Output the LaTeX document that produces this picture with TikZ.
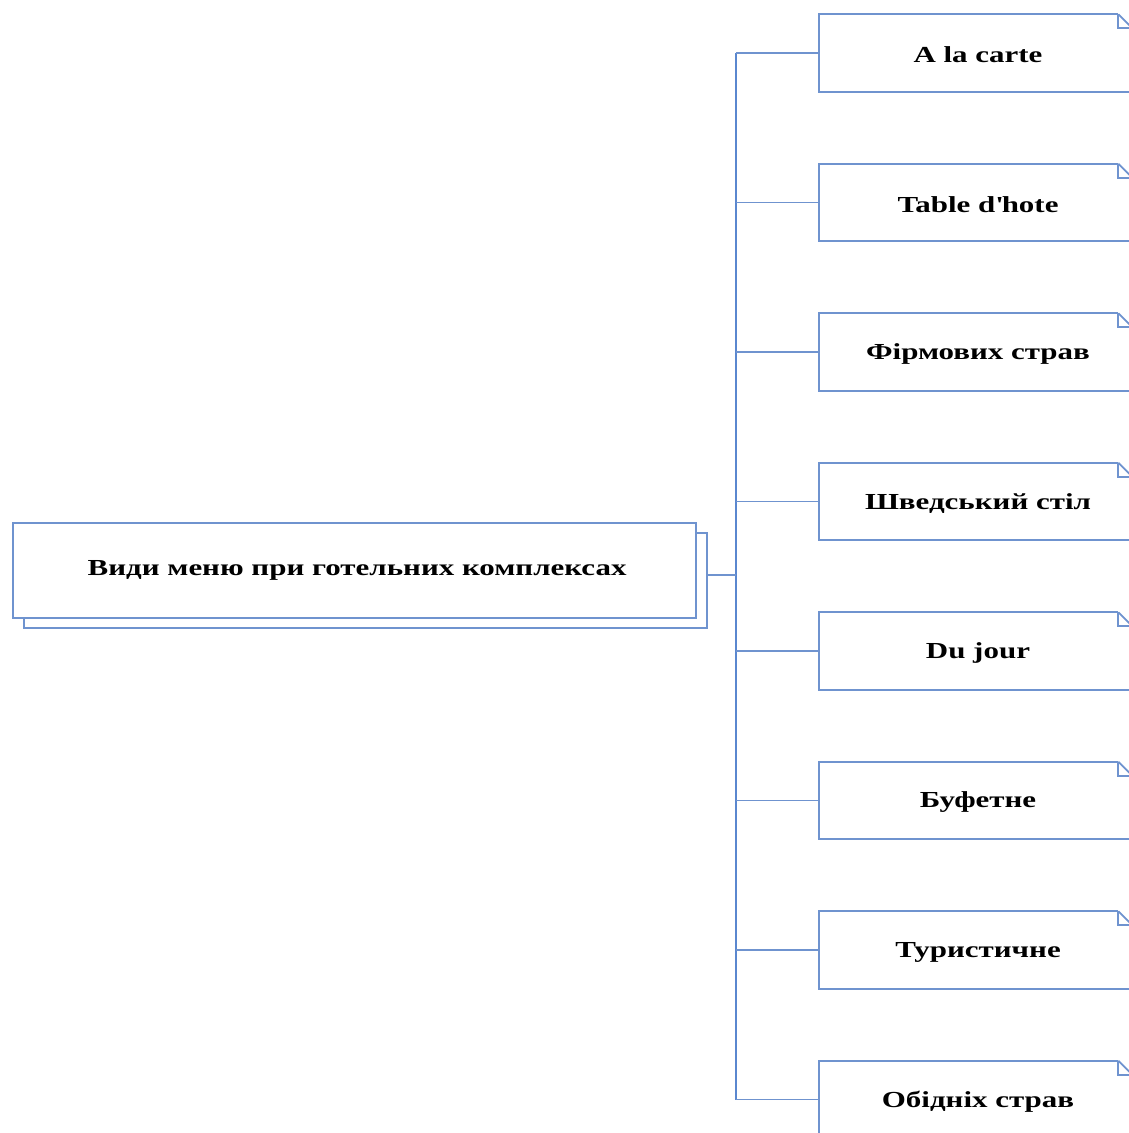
\documentclass[tikz,border=0pt]{standalone}
\usepackage{fontspec}
\setmainfont{Liberation Serif}[BoldFeatures={FakeStretch=1.35}]
\begin{document}
\begin{tikzpicture}[x=0.75pt,y=-0.75pt,
  boxline/.style={draw=boxblue,line width=1.3pt},
  busline/.style={draw=busblue,line width=2pt},
  txt/.style={font=\fontsize{17.2}{19}\selectfont\bfseries},
  item/.style={minimum width=313*0.75pt,minimum height=77*0.75pt,inner sep=0pt},
  mainbox/.style={boxline,fill=white,minimum width=683*0.75pt,minimum height=95*0.75pt,inner sep=0pt,txt}]
\definecolor{boxblue}{HTML}{6F93CF}
\definecolor{busblue}{HTML}{5A87CF}
\clip (0,0) rectangle (1129,1133);
\fill[white] (0,0) rectangle (1129,1133);
% main box with shadow copy
\node[mainbox] (mainback) at (365.5,580.5) {};
\node[mainbox] (main) at (354.5,570.5) {\raisebox{-2pt}{\hspace*{4pt}Види меню при готельних комплексах}};
% bus
\coordinate (bustop) at (736,53);
\coordinate (busbot) at (736,1099.5);
\coordinate (busmid) at (736,575);
\draw[busline] (bustop) -- (busbot);
\draw[boxline] (mainback.east |- busmid) -- (busmid);
% items
\foreach \n/\y/\t in {1/53/A la carte, 2/202.5/Table d\textquotesingle hote, 3/352/Фірмових страв, 4/501.5/Шведський стіл,
  5/651/Du jour, 6/800.5/Буфетне, 7/950/Туристичне, 8/1099.5/Обідніх страв}{
  \node[item] (i\n) at (975.5,\y) {};
  \node[txt] (t\n) at (978,\y+2) {\t};
  \draw[boxline] ([xshift=-14*0.75pt]i\n.north east) -- (i\n.north west) -- (i\n.south west) -- (i\n.south east);
  \draw[boxline] ([xshift=-14*0.75pt]i\n.north east) -- ([xshift=-14*0.75pt,yshift=-14*0.75pt]i\n.north east) -- ([yshift=-14*0.75pt]i\n.north east);
  \draw[boxline] ([xshift=-14*0.75pt]i\n.north east) -- ([yshift=-14*0.75pt]i\n.north east);
  \draw[boxline] (i\n.west -| bustop) -- (i\n.west);
}
\end{tikzpicture}
\end{document}
